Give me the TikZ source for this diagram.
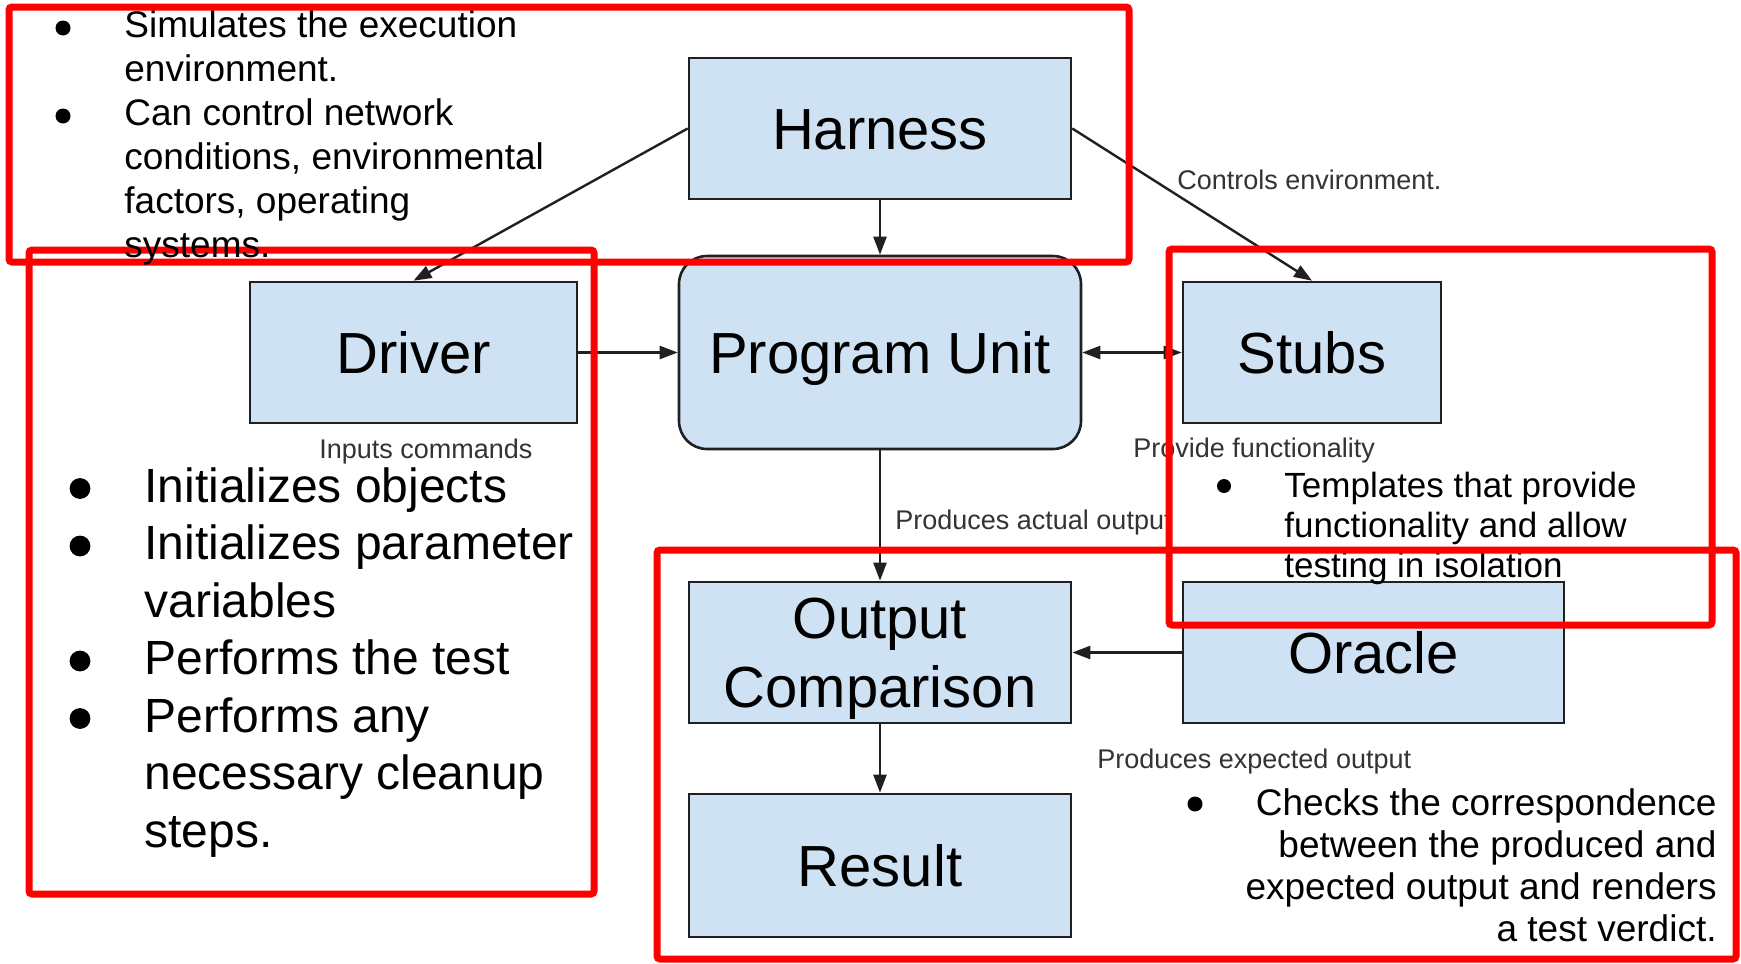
\documentclass[tikz,border=0pt]{standalone}
\usepackage{fontspec}
\setmainfont{Liberation Sans}
\usetikzlibrary{arrows.meta}
\definecolor{boxfill}{HTML}{CFE2F3}
\definecolor{boxline}{HTML}{202020}
\definecolor{hlred}{HTML}{FF0000}
\definecolor{labelgray}{HTML}{333333}
\newcommand{\boxfnt}{\fontsize{29pt}{34.5pt}\selectfont}
\newcommand{\lblfnt}{\fontsize{13.5pt}{16pt}\selectfont}
\newcommand{\topfnt}{\fontsize{18.5pt}{22pt}\selectfont}
\newcommand{\leftfnt}{\fontsize{24pt}{28.75pt}\selectfont}
\newcommand{\tmplfnt}{\fontsize{17.5pt}{20pt}\selectfont}
\newcommand{\chkfnt}{\fontsize{18.5pt}{21pt}\selectfont}
\begin{document}
\begin{tikzpicture}[x=0.5pt,y=-0.5pt,
  box/.style={draw=boxline, fill=boxfill, line width=1.3pt, inner sep=0pt,
    font=\boxfnt, text height=20.8pt, text depth=0pt},
  tip/.style={Triangle[length=9pt,width=6.5pt]},
  conn/.style={line width=1.2pt, draw=boxline, -{Triangle[length=9pt,width=6.5pt]}},
  lbl/.style={font=\lblfnt, text=labelgray, inner sep=0pt, anchor=base west},
  hl/.style={draw=hlred, line width=3.5pt, rounded corners=1.5pt},
  topln/.style={font=\topfnt, inner sep=0pt, anchor=base west},
  leftln/.style={font=\leftfnt, inner sep=0pt, anchor=base west},
  tmplln/.style={font=\tmplfnt, inner sep=0pt, anchor=base west},
  chkln/.style={font=\chkfnt, inner sep=0pt, anchor=base east}
]
\fill[white] (0,0) rectangle (1741,964);
\useasboundingbox (0,0) rectangle (1741,964);

% boxes
\node[box, minimum width=191pt, minimum height=70.5pt] (harness) at (880,128.5) {Harness};
\node[box, minimum width=163.5pt, minimum height=70.5pt] (driver) at (413.5,352.5) {Driver};
\node[box, rounded corners=14pt, minimum width=201pt, minimum height=96.5pt] (pu) at (880,352.5) {Program Unit};
\node[box, minimum width=129pt, minimum height=70.5pt] (stubs) at (1312,352.5) {Stubs};
\node[box, minimum width=191pt, minimum height=70.5pt, align=center, text height=55.3pt, text depth=0pt] (oc) at (880,652.5) {Output\\Comparison};
\node[box, minimum width=190.5pt, minimum height=70.5pt] (oracle) at (1373.5,652.5) {Oracle};
\node[box, minimum width=191pt, minimum height=71.5pt] (result) at (880,865.5) {Result};

% connectors
\draw[conn] (harness.west) -- (driver.north);
\draw[conn] (harness.east) -- (stubs.north);
\draw[conn] (harness.south) -- (pu.north);
\draw[conn] (driver.east) -- (pu.west);
\draw[line width=1.2pt, draw=boxline, {Triangle[length=9pt,width=6.5pt]}-{Triangle[length=9pt,width=6.5pt]}] (pu.east) -- (stubs.west);
\draw[conn] (pu.south) -- (oc.north);
\draw[conn] (oracle.west) -- (oc.east);
\draw[conn] (oc.south) -- (result.north);

% connector labels
\node[lbl] (lctrl) at (1177,189) {Controls environment.};
\node[lbl] (linp) at (319,458) {Inputs commands};
\node[lbl] (lprov) at (1133,457) {Provide functionality};
\node[lbl] (lact) at (895,529) {Produces actual output};
\node[lbl] (lexp) at (1097,768) {Produces expected output};

% top bullet text
\fill (63,28) circle[radius=3.75pt];
\fill (63,116) circle[radius=3.75pt];
\node[topln] (t1) at (124,37) {Simulates the execution};
\node[topln] (t2) at (124,81) {environment.};
\node[topln] (t3) at (124,125) {Can control network};
\node[topln] (t4) at (124,169) {conditions, environmental};
\node[topln] (t5) at (124,213) {factors, operating};

% left bullet text
\fill (80,488.5) circle[radius=5.2pt];
\fill (80,546) circle[radius=5.2pt];
\fill (80,661) circle[radius=5.2pt];
\fill (80,718.5) circle[radius=5.2pt];
\node[leftln] (d1) at (144,502) {Initializes objects};
\node[leftln] (d2) at (144,559.5) {Initializes parameter};
\node[leftln] (d3) at (144,617) {variables};
\node[leftln] (d4) at (144,674.5) {Performs the test};
\node[leftln] (d5) at (144,732) {Performs any};
\node[leftln] (d6) at (144,789.5) {necessary cleanup};
\node[leftln] (d7) at (144,847) {steps.};

% stubs bullet text
\fill (1224,486) circle[radius=3.5pt];
\node[tmplln] (s1) at (1284,497) {Templates that provide};
\node[tmplln] (s2) at (1284,537) {functionality and allow};
\node[tmplln] (s3) at (1284,577) {testing in isolation};

% oracle bullet text
\fill (1195,804) circle[radius=3.75pt];
\node[chkln] (c1) at (1717,815) {Checks the correspondence};
\node[chkln] (c2) at (1717,857) {between the produced and};
\node[chkln] (c3) at (1717,899) {expected output and renders};
\node[chkln] (c4) at (1717,941) {a test verdict.};

% red highlight frames
\draw[hl] (9,7) rectangle (1129,262);
\draw[hl] (29,250) rectangle (594,894);
\draw[hl] (1169,249) rectangle (1712,625);
\draw[hl] (657,550) rectangle (1736,959);

\node[topln] (t6) at (124,257) {systems.};
\end{tikzpicture}
\end{document}
